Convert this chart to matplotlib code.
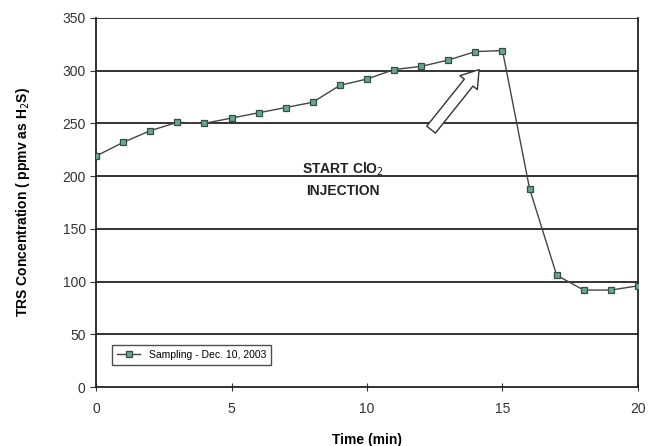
import numpy as np
import matplotlib.pyplot as plt

plt.rcParams['font.family'] = ['Liberation Sans', 'DejaVu Sans']

time_min = np.arange(0, 21)
trs_ppmv = [219, 232, 243, 251, 250, 255, 260, 265, 270, 286, 292,
            301, 304, 310, 318, 319, 188, 106, 92, 92, 96]
series_label = 'Sampling - Dec. 10, 2003'

fig = plt.figure(figsize=(6.49, 4.46), dpi=100)
ax = fig.add_axes([0.148, 0.132, 0.835, 0.828])

for y in range(50, 351, 50):
    ax.axhline(y, color='#333333', lw=1.4, zorder=1)

ax.plot(time_min, trs_ppmv, color='#444444', lw=1.0, marker='s', ms=5,
        mfc='#6aa58f', mec='#2f4f44', mew=0.9, label=series_label, zorder=3)

ax.set_xlim(0, 20)
ax.set_ylim(0, 350)
ax.set_xticks([0, 5, 10, 15, 20])
ax.set_yticks(range(0, 351, 50))
ax.tick_params(axis='x', direction='inout', length=6, labelsize=10, colors='#333333', pad=8)
ax.tick_params(axis='y', direction='out', length=4, labelsize=10, colors='#333333')
for s in ['left', 'bottom', 'right']:
    ax.spines[s].set_color('#222222')
    ax.spines[s].set_linewidth(1.3)
ax.spines['top'].set_visible(False)

ax.set_xlabel('Time (min)', fontsize=10, fontweight='bold', labelpad=12)
ax.set_ylabel('TRS Concentration ( ppmv as H$_2$S)', fontsize=10, fontweight='bold', labelpad=22)

ax.annotate('', xy=(14.2, 303), xytext=(12.3, 242),
            arrowprops=dict(arrowstyle='simple,head_width=1.6,head_length=1.2,tail_width=0.8',
                            fc='white', ec='#333333', lw=1.0))
ax.text(9.1, 197, 'START ClO$_2$\nINJECTION', fontsize=10, fontweight='bold',
        ha='center', va='center', linespacing=1.5, color='#222222')

leg = ax.legend(loc='lower left', bbox_to_anchor=(0.02, 0.045), fontsize=7.5,
                frameon=True, fancybox=False, edgecolor='#222222', borderpad=0.5,
                handlelength=2.2)
leg.get_frame().set_linewidth(1.0)

fig.savefig('out.png', dpi=100)
